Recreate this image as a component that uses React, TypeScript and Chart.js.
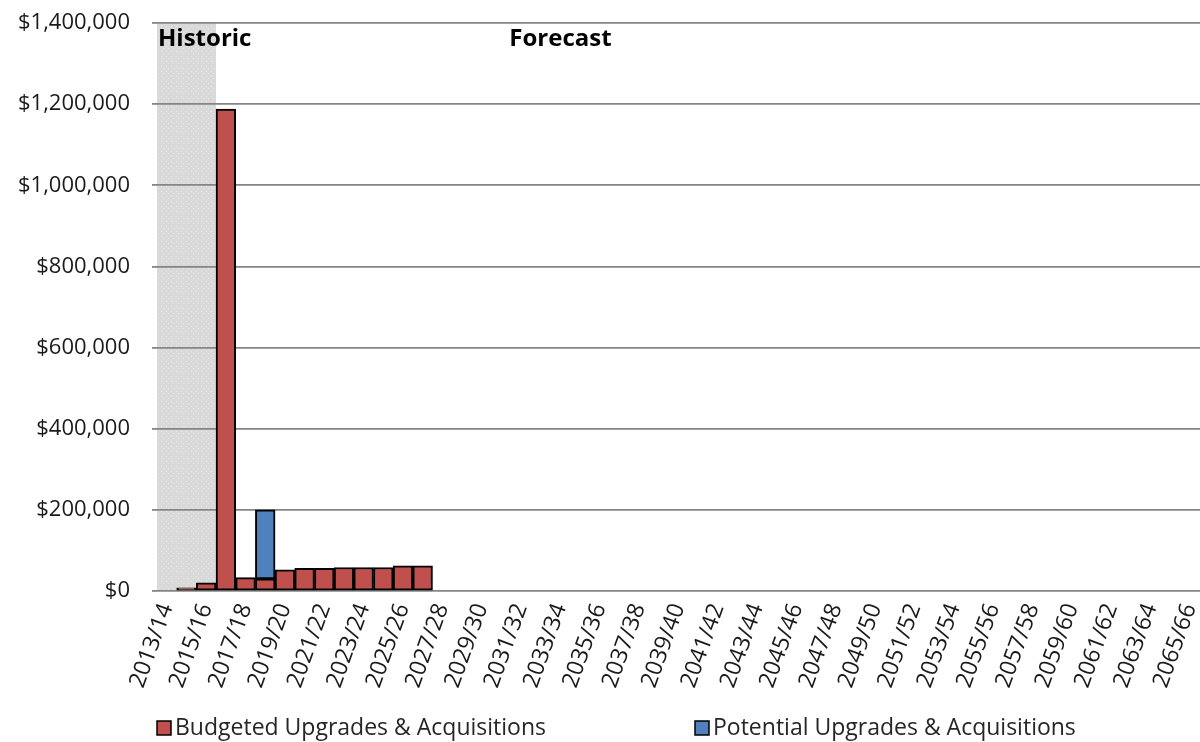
import { useEffect, useRef } from "react";
import { Chart, registerables } from "chart.js";

Chart.register(...registerables);

// Financial years on the category axis
const years = [
  "2013/14", "2014/15", "2015/16", "2016/17", "2017/18", "2018/19", "2019/20", "2020/21",
  "2021/22", "2022/23", "2023/24", "2024/25", "2025/26", "2026/27", "2027/28", "2028/29",
  "2029/30", "2030/31", "2031/32", "2032/33", "2033/34", "2034/35", "2035/36", "2036/37",
  "2037/38", "2038/39", "2039/40", "2040/41", "2041/42", "2042/43", "2043/44", "2044/45",
  "2045/46", "2046/47", "2047/48", "2048/49", "2049/50", "2050/51", "2051/52", "2052/53",
  "2053/54", "2054/55", "2055/56", "2056/57", "2057/58", "2058/59", "2059/60", "2060/61",
  "2061/62", "2062/63", "2063/64", "2064/65", "2065/66",
];

// Spending per year ($); later years have no entries
const budgeted = [
  null, 8000, 20000, 1188000, 33000, 30000, 52000, 56000, 56000, 58000, 58000, 58000, 62000, 62000,
];
const potential = [null, null, null, null, null, 170000];

const seriesNames = ["Budgeted Upgrades & Acquisitions", "Potential Upgrades & Acquisitions"];
const seriesColors = ["#c0504d", "#4f81bd"];

const yTicks = [0, 200000, 400000, 600000, 800000, 1000000, 1200000, 1400000];

// Historic period covers the first three years
const historicFirst = 0;
const historicLast = 2;
const forecastLabelAt = 20;

const FONT = "'Open Sans', sans-serif";

function makeShadePattern(ctx: CanvasRenderingContext2D) {
  const c = document.createElement("canvas");
  c.width = 5;
  c.height = 5;
  const p = c.getContext("2d")!;
  p.fillStyle = "#d9d9d9";
  p.fillRect(0, 0, 5, 5);
  p.fillStyle = "#e9e9e9";
  p.fillRect(1, 1, 1, 1);
  p.fillRect(3, 3, 1, 1);
  return ctx.createPattern(c, "repeat")!;
}

export default function App() {
  const canvasRef = useRef<HTMLCanvasElement | null>(null);

  useEffect(() => {
    const canvas = canvasRef.current!;
    const decor = {
      id: "periods",
      beforeDraw(chart: any) {
        const { ctx, chartArea, scales } = chart;
        const x = scales.x;
        ctx.save();
        ctx.fillStyle = "#ffffff";
        ctx.fillRect(0, 0, chart.width, chart.height);
        const half = (x.getPixelForValue(1) - x.getPixelForValue(0)) / 2;
        const x0 = x.getPixelForValue(historicFirst) - half;
        const x1 = x.getPixelForValue(historicLast) + half;
        ctx.fillStyle = makeShadePattern(ctx);
        ctx.fillRect(x0, chartArea.top, x1 - x0, chartArea.bottom - chartArea.top);
        ctx.restore();
      },
      afterDraw(chart: any) {
        const { ctx, chartArea, scales } = chart;
        const x = scales.x;
        ctx.save();
        ctx.fillStyle = "#000000";
        ctx.font = `bold 24px ${FONT}`;
        ctx.textBaseline = "middle";
        ctx.textAlign = "left";
        ctx.fillText("Historic", chartArea.left + 1, chartArea.top + 16);
        ctx.textAlign = "center";
        ctx.fillText("Forecast", x.getPixelForValue(forecastLabelAt), chartArea.top + 16);

        // legend
        const ly = chart.height - 14;
        const items = [chartArea.left, chartArea.left + 538];
        ctx.font = `23px ${FONT}`;
        ctx.textAlign = "left";
        items.forEach((lx, i) => {
          ctx.fillStyle = seriesColors[i];
          ctx.fillRect(lx, ly - 7, 14, 14);
          ctx.lineWidth = 1.5;
          ctx.strokeStyle = "#000000";
          ctx.strokeRect(lx, ly - 7, 14, 14);
          ctx.fillStyle = "#262626";
          ctx.fillText(seriesNames[i], lx + 18, ly);
        });
        ctx.restore();
      },
    };

    const chart = new Chart(canvas, {
      type: "bar",
      data: {
        labels: years,
        datasets: [
          {
            label: seriesNames[0],
            data: budgeted,
            backgroundColor: seriesColors[0],
            borderColor: "#000000",
            borderWidth: 2,
            borderSkipped: false,
            categoryPercentage: 1,
            barPercentage: 1,
          },
          {
            label: seriesNames[1],
            data: potential,
            backgroundColor: seriesColors[1],
            borderColor: "#000000",
            borderWidth: 2,
            borderSkipped: false,
            categoryPercentage: 1,
            barPercentage: 1,
          },
        ],
      },
      options: {
        animation: false,
        responsive: false,
        devicePixelRatio: 1,
        layout: { padding: { top: 23, right: 0, bottom: 0, left: 0 } },
        plugins: {
          legend: { display: false },
          tooltip: { enabled: false },
        },
        scales: {
          x: {
            stacked: true,
            grid: { display: false, drawTicks: false },
            border: { display: false },
            ticks: {
              autoSkip: false,
              maxRotation: 70,
              minRotation: 70,
              padding: 9,
              color: "#1a1a1a",
              font: { family: FONT, size: 23 },
              callback: (_v: any, i: number) => (i % 2 === 0 ? years[i] : ""),
            },
            afterFit: (s: any) => {
              s.height = 151;
              s.paddingLeft = 0;
              s.paddingRight = 0;
            },
          },
          y: {
            stacked: true,
            min: 0,
            max: 1400000,
            afterBuildTicks: (s: any) => {
              s.ticks = yTicks.map((v) => ({ value: v }));
            },
            grid: { color: "#858585", lineWidth: 1.8, tickLength: 5, tickColor: "#858585" },
            border: { display: false },
            ticks: {
              padding: 22,
              color: "#1a1a1a",
              font: { family: FONT, size: 22 },
              callback: (v: any) => "$" + Number(v).toLocaleString("en-US"),
            },
            afterFit: (s: any) => {
              s.width = 157;
              s.paddingTop = 0;
              s.paddingBottom = 0;
            },
          },
        },
      },
      plugins: [decor],
    });
    return () => chart.destroy();
  }, []);

  return (
    <div style={{ position: "fixed", left: 0, top: 0, width: 1200, height: 742 }}>
      <canvas ref={canvasRef} width={1200} height={742} style={{ display: "block" }} />
    </div>
  );
}
